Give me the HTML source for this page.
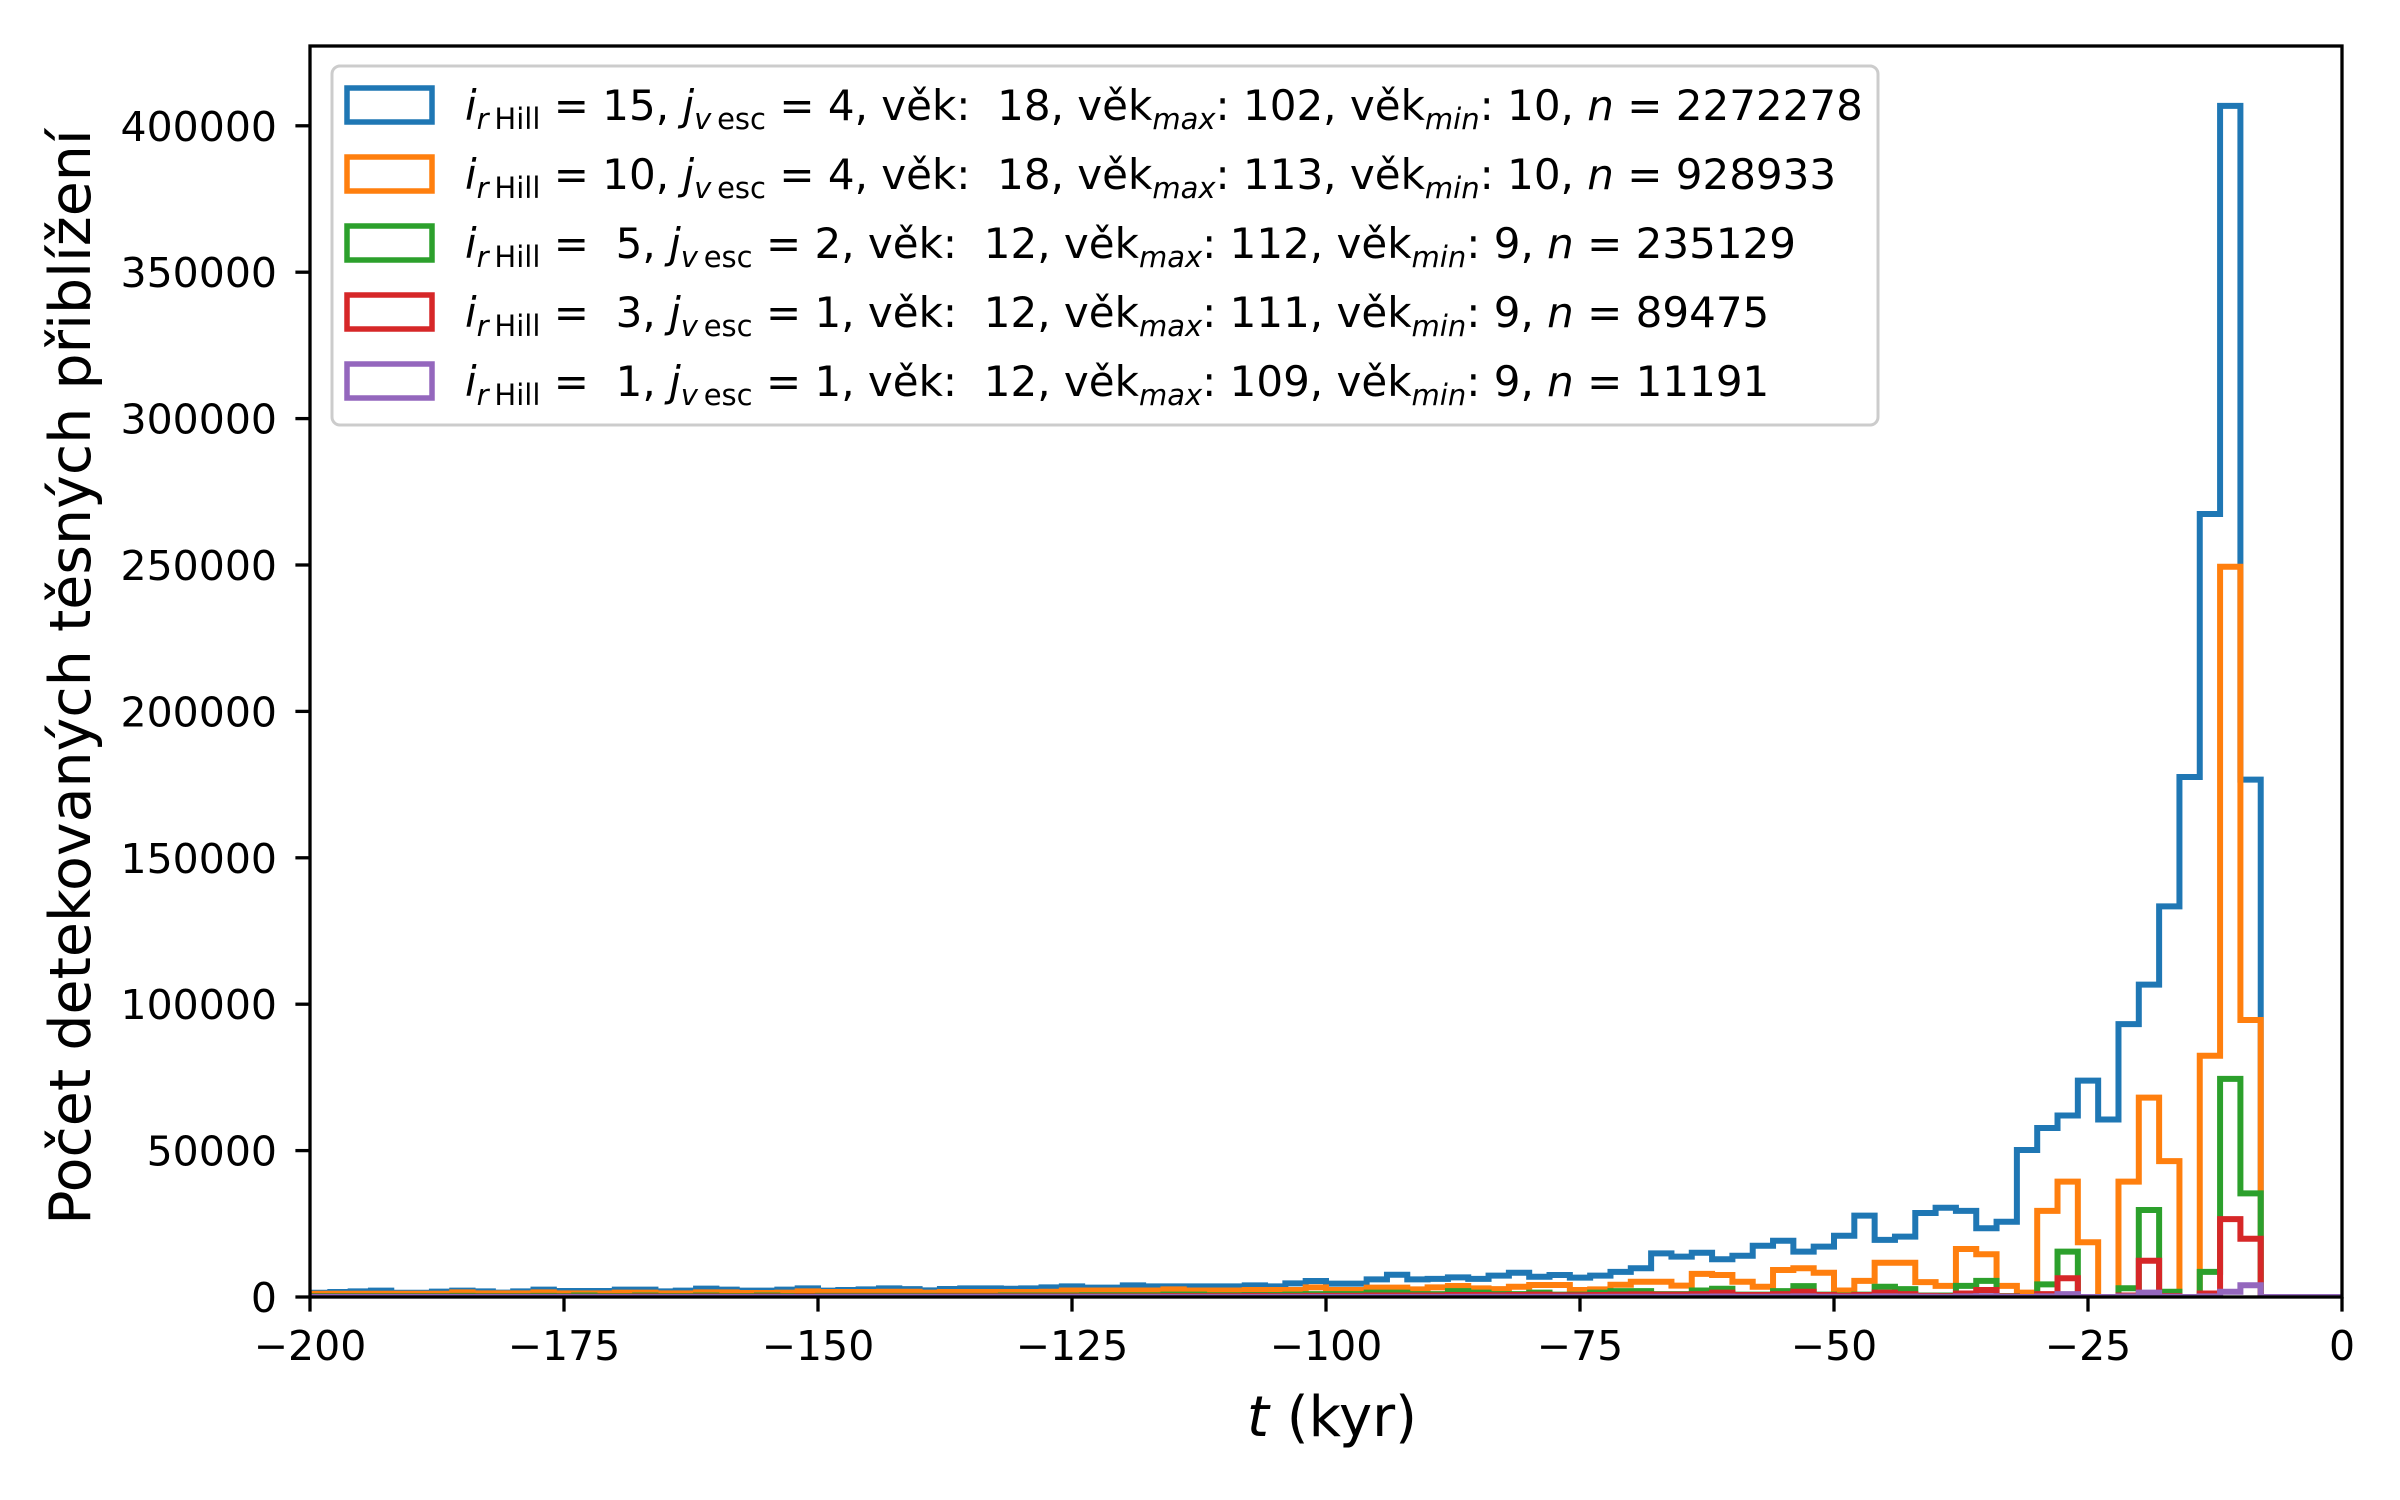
<!DOCTYPE html>
<html><head><meta charset="utf-8"><style>
html,body{margin:0;padding:0;background:#fff}
svg{display:block}
text{font-family:"DejaVu Sans","Liberation Sans",sans-serif;fill:#000}
</style></head><body>
<svg id="chart" width="2400" height="1500" viewBox="0 0 2400 1500" xmlns="http://www.w3.org/2000/svg">
<rect x="0" y="0" width="2400" height="1500" fill="#fff"/>
<defs><clipPath id="plotclip"><rect x="310" y="46" width="2032" height="1251"/></clipPath></defs>
<g id="series" clip-path="url(#plotclip)"></g>
<g id="axes"></g>
<text x="1332" y="1436" font-size="56" text-anchor="middle"><tspan font-style="italic">t</tspan> (kyr)</text>
<text transform="translate(90,677) rotate(-90)" font-size="57" text-anchor="middle">Počet detekovaných těsných přiblížení</text>
<g id="legend">
<rect x="332" y="66" width="1546" height="359" rx="8" fill="#fff" fill-opacity="0.8" stroke="#cccccc" stroke-width="3"/>
</g>
</svg>
<script>
const seriesNames = ["rHill15","rHill10","rHill5","rHill3","rHill1"];
const seriesColors = ["#1f77b4","#ff7f0e","#2ca02c","#d62728","#9467bd"];
const binStartKyr = -200;
const binWidthKyr = 2;
const xTicks = [-200,-175,-150,-125,-100,-75,-50,-25,0];
const xTickLabels = ["\u2212200","\u2212175","\u2212150","\u2212125","\u2212100","\u221275","\u221250","\u221225","0"];
const yTicks = [0,50000,100000,150000,200000,250000,300000,350000,400000];
const yTickLabels = ["0","50000","100000","150000","200000","250000","300000","350000","400000"];
const countsHill15 = [1470,1700,1930,2160,1470,1470,1820,2160,1930,1500,1930,2500,2050,2050,2050,2500,2500,1930,2160,2840,2500,2160,2160,2500,2960,
2160,2400,2620,2960,2700,2280,2730,2960,2960,2800,2960,3300,3640,3190,3190,3980,3640,3640,3640,3640,3640,3980,3640,4670,5470,
4550,4550,6000,7600,6000,6200,6700,6200,7300,
8300,6900,7500,6600,7300,8600,9800,14900,13800,15100,12900,14100,17500,19200,15500,17200,20900,27800,19500,20600,28700,30500,29400,23500,25700,50200,57700,62000,73900,60600,93200,106700,133400,177600,267400,406800,176700];
const countsHill10 = [1100,1100,1100,1100,1100,1100,1100,1600,1250,1250,1250,1600,1250,1250,1250,1480,1480,1250,1250,1600,1600,1350,1350,1480,1930,
1700,1700,1700,1800,1800,1500,1700,1700,1700,1700,1700,1800,2200,2200,2200,2200,2200,2600,2200,2200,2200,2400,2400,2400,3300,
2400,2400,3200,3200,2600,3300,3760,2960,2700,
3500,4100,4100,2400,2600,4200,5200,5200,3900,7900,7500,5200,3500,9200,9800,8300,2200,5500,11700,11700,5100,3800,16400,14600,3800,1500,29400,39400,18700,0,39400,68100,46400,0,82400,249400,94600];
const countsHill5 = [300,300,300,300,300,300,300,400,300,300,300,400,300,500,300,300,500,300,300,500,300,300,500,300,300,
400,400,400,400,400,400,400,400,400,500,500,500,500,600,600,600,600,800,800,600,600,700,700,800,1000,
1000,1000,1500,1500,1000,1000,2000,1500,1000,
1000,1500,800,800,1500,2000,2000,1000,1000,2200,2800,800,800,2000,3700,800,500,800,3500,2700,500,500,3800,5500,300,0,4300,15500,0,0,3000,29700,1800,0,8600,74500,35400];
const countsHill3 = [100,100,100,100,100,100,100,100,100,100,100,100,100,100,100,100,150,100,100,150,100,100,150,100,150,
150,150,150,150,150,150,200,200,200,200,200,200,200,200,200,200,200,300,300,300,300,400,300,300,400,
400,400,500,500,500,500,700,700,600,
700,800,600,600,700,800,900,800,800,1000,1500,700,700,1000,1800,700,400,700,1500,1000,400,300,1200,2400,200,0,1000,6400,0,0,500,12400,300,0,1200,26600,19900];
const countsHill1 = [20,20,20,20,20,20,20,20,20,20,20,20,20,20,20,20,20,20,20,20,20,20,20,20,20,
30,30,30,30,30,30,30,30,30,30,30,30,30,30,30,30,30,40,40,40,40,40,40,40,50,
50,50,60,60,60,60,80,80,80,
80,90,80,80,90,100,100,100,100,120,150,100,100,120,200,100,80,100,200,150,80,60,200,300,50,0,200,1000,0,0,200,1500,100,0,200,1800,4000];
const allCounts = [countsHill15,countsHill10,countsHill5,countsHill3,countsHill1];

const X0=310, X1=2342, Y0=1297, YTOP=46, XMIN=-200, XMAX=0, YMAX=427250;
function xs(t){return X0+(t-XMIN)*(X1-X0)/(XMAX-XMIN);}
function ys(v){return Y0-v*(Y0-YTOP)/YMAX;}
const NS="http://www.w3.org/2000/svg";
const gS=document.getElementById('series');
allCounts.forEach(function(arr,si){
  let d="M"+xs(binStartKyr-binWidthKyr)+","+ys(0)+" L"+xs(binStartKyr)+","+ys(0);
  arr.forEach(function(v,i){
    const a=binStartKyr+i*binWidthKyr, b=a+binWidthKyr;
    d+=" L"+xs(a)+","+ys(v)+" L"+xs(b)+","+ys(v);
  });
  const end=binStartKyr+arr.length*binWidthKyr;
  d+=" L"+xs(end)+","+ys(0)+" L"+xs(XMAX+5)+","+ys(0);
  const p=document.createElementNS(NS,'path');
  p.setAttribute('d',d);
  p.setAttribute('fill','none');
  p.setAttribute('stroke',seriesColors[si]);
  p.setAttribute('stroke-width','6');
  p.setAttribute('stroke-linejoin','miter');
  
  
  gS.appendChild(p);
});
const gA=document.getElementById('axes');
const frame=document.createElementNS(NS,'rect');
frame.setAttribute('x',X0);frame.setAttribute('y',YTOP);
frame.setAttribute('width',X1-X0);frame.setAttribute('height',Y0-YTOP);
frame.setAttribute('fill','none');frame.setAttribute('stroke','#000');frame.setAttribute('stroke-width','3.3');


gA.appendChild(frame);
xTicks.forEach(function(t,i){
  const l=document.createElementNS(NS,'line');
  l.setAttribute('x1',xs(t));l.setAttribute('x2',xs(t));l.setAttribute('y1',Y0);l.setAttribute('y2',Y0+14.6);
  l.setAttribute('stroke','#000');l.setAttribute('stroke-width','3.3');
  
  
  gA.appendChild(l);
  const tx=document.createElementNS(NS,'text');
  tx.setAttribute('x',xs(t));tx.setAttribute('y',1360);tx.setAttribute('font-size','41');tx.setAttribute('text-anchor','middle');
  tx.textContent=xTickLabels[i];
  
  
  gA.appendChild(tx);
});
yTicks.forEach(function(v,i){
  const l=document.createElementNS(NS,'line');
  l.setAttribute('x1',X0-14.6);l.setAttribute('x2',X0);l.setAttribute('y1',ys(v));l.setAttribute('y2',ys(v));
  l.setAttribute('stroke','#000');l.setAttribute('stroke-width','3.3');
  
  
  gA.appendChild(l);
  const tx=document.createElementNS(NS,'text');
  tx.setAttribute('x',277);tx.setAttribute('y',ys(v)+15);tx.setAttribute('font-size','41');tx.setAttribute('text-anchor','end');
  tx.textContent=yTickLabels[i];
  
  
  gA.appendChild(tx);
});
const legendRows=[["15","4","18","102","10","2272278"],["10","4","18","113","10","928933"],["\u00a05","2","12","112","9","235129"],["\u00a03","1","12","111","9","89475"],["\u00a01","1","12","109","9","11191"]];
const gL=document.getElementById('legend');
legendRows.forEach(function(r,i){
  const cy=105+i*69;
  const pr=document.createElementNS(NS,'rect');
  pr.setAttribute('x',347);pr.setAttribute('y',cy-17);pr.setAttribute('width',85);pr.setAttribute('height',34);
  pr.setAttribute('fill','none');pr.setAttribute('stroke',seriesColors[i]);pr.setAttribute('stroke-width','5.5');
  
  
  gL.appendChild(pr);
  const t=document.createElementNS(NS,'text');
  t.setAttribute('x',465);t.setAttribute('y',cy+15);t.setAttribute('font-size','42');
  t.setAttribute('xml:space','preserve');
  t.innerHTML='<tspan font-style="italic">i</tspan><tspan font-size="29" dy="9"><tspan font-style="italic">r</tspan>\u2009Hill</tspan><tspan dy="-9"> = '+r[0]+', </tspan><tspan font-style="italic">j</tspan><tspan font-size="29" dy="9"><tspan font-style="italic">v</tspan>\u2009esc</tspan><tspan dy="-9"> = '+r[1]+', věk: \u00a0'+r[2]+', věk</tspan><tspan font-size="29" font-style="italic" dy="9">max</tspan><tspan dy="-9">: '+r[3]+', věk</tspan><tspan font-size="29" font-style="italic" dy="9">min</tspan><tspan dy="-9">: '+r[4]+', </tspan><tspan font-style="italic">n</tspan><tspan> = '+r[5]+'</tspan>';
  
  
  gL.appendChild(t);
});
</script>
</body></html>
